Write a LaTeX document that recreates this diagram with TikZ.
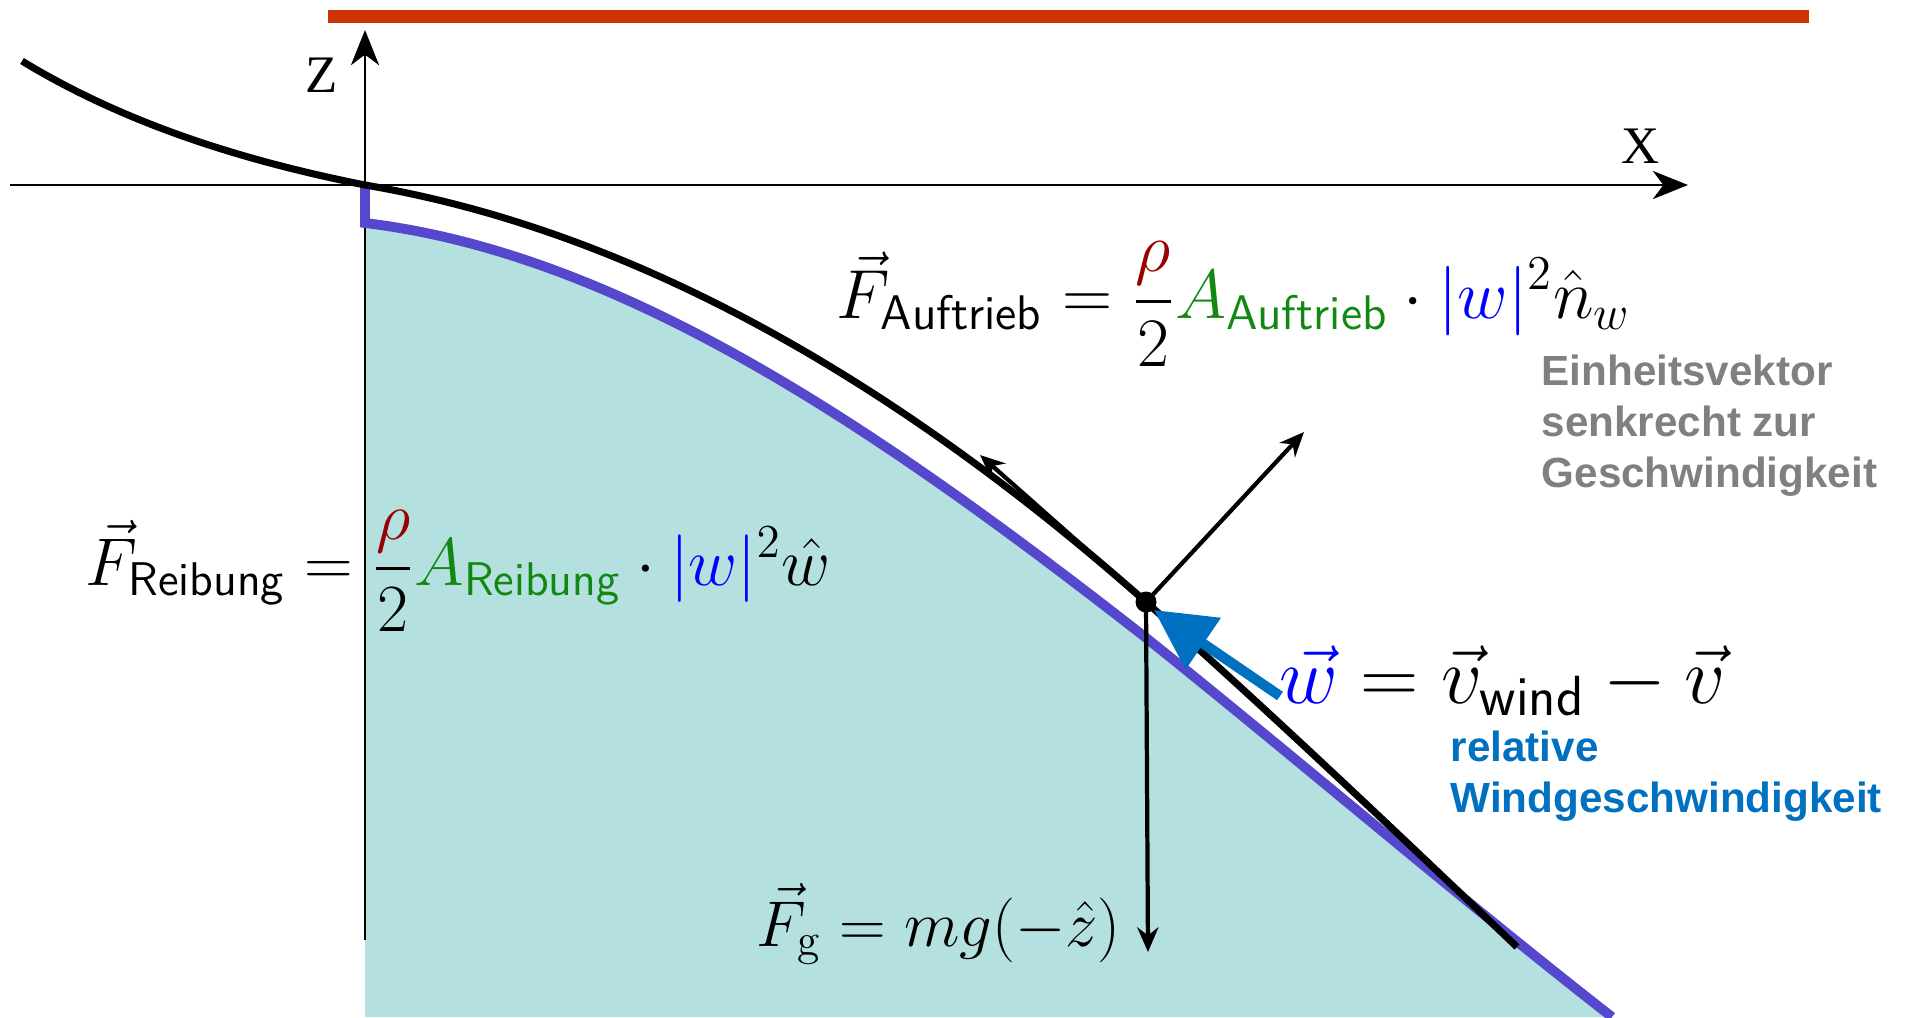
\RequirePackage{fix-cm}
\documentclass[tikz,border=0pt]{standalone}
\usepackage{amsmath}
\usepackage{fontspec}
\newfontfamily\notefont{Liberation Sans}
\newfontfamily\axisfont{Liberation Serif}
\usetikzlibrary{arrows.meta}
\definecolor{barred}{HTML}{CC3300}
\definecolor{waterfill}{HTML}{B4E0E0}
\definecolor{surfblue}{HTML}{5548CC}
\definecolor{windblue}{HTML}{0070C0}
\definecolor{notegray}{HTML}{808080}
\definecolor{rhored}{HTML}{990000}
\definecolor{areagreen}{HTML}{118811}
\definecolor{wblue}{HTML}{0000FF}

\begin{document}
\begin{tikzpicture}[
    x=0.01cm, y=-0.01cm,
    every node/.style={inner sep=0pt},
    axis/.style={line width=0.7pt, -{Stealth[length=10pt, width=8pt, inset=3pt]}},
    force/.style={line width=1.2pt, -{Stealth[length=7pt, width=6pt]}},
    windarrow/.style={windblue, line width=2.9pt, -{Triangle[length=17pt, width=17pt]}},
    formula/.style={font=\fontsize{19.75}{24}\selectfont},
    note/.style={font=\notefont\bfseries\fontsize{12}{14.5}\selectfont, align=left},
    dot/.style={circle, fill=black, minimum size=0.21cm}
]
\useasboundingbox (0,0) rectangle (1906,1017);

% Title bar
\fill[barred] (328,10) rectangle (1809,23);

% Water below the surface
\fill[waterfill] (365,1017) -- (365,223) .. controls (625,254) and (885,434) .. (1145,637)
    .. controls (1300,761) and (1457,896) .. (1612,1017) -- cycle;

% Axes
\draw[axis] (365,940) -- (365,30);
\draw[axis] (10,185) -- (1688,185);
\node[font=\axisfont\fontsize{15}{18}\selectfont] (zlabel) at (322,75) {Z};
\node[font=\axisfont\fontsize{15}{18}\selectfont] (xlabel) at (1641,146) {X};

% Surface line
\draw[surfblue, line width=2.8pt] (365,184) -- (365,223) .. controls (625,254) and (885,434) .. (1145,637)
    .. controls (1300,761) and (1457,896) .. (1612,1017);

% Trajectory
\node[dot] (P) at (1146,602) {};
\draw[line width=2pt] (22,61) .. controls (132,128) and (255,163) .. (365,185)
    .. controls (625,229) and (886,372) .. (P.center)
    .. controls (1270,712) and (1393,829) .. (1517,947);

% Forces at the point
\coordinate (tang) at (980,455);
\coordinate (norm) at (1304,432);
\coordinate (down) at (1148,952);
\coordinate (wtail) at (1280,696);
\draw[force] (P.center) -- (tang);
\draw[force] (P.center) -- (norm);
\draw[force] (P.center) -- (down);
\draw[windarrow] (wtail) -- (P.south east);

% Labels
\node[formula, anchor=west] (auftrieb) at (836,304) {$\displaystyle \vec{F}_{\mathsf{Auftrieb}} = \frac{\textcolor{rhored}{\rho}}{2}\textcolor{areagreen}{A_{\mathsf{Auftrieb}}} \cdot \textcolor{wblue}{\lvert w\rvert}^2 \hat{n}_w$};
\node[formula, font=\fontsize{19.2}{23}\selectfont, anchor=west] (reibung) at (85,571) {$\displaystyle \vec{F}_{\mathsf{Reibung}} = \frac{\textcolor{rhored}{\rho}}{2}\textcolor{areagreen}{A_{\mathsf{Reibung}}} \cdot \textcolor{wblue}{\lvert w\rvert}^2 \hat{w}$};
\node[formula, font=\fontsize{23}{27}\selectfont, anchor=base west] (wrel) at (1279,703) {$\textcolor{wblue}{\vec{w}} = \vec{v}_{\mathsf{wind}} - \vec{v}$};
\node[formula, font=\fontsize{18.4}{22}\selectfont, anchor=base west] (grav) at (756,946) {$\vec{F}_{\mathrm{g}} = mg(-\hat{z})$};
\node[note, text=notegray, anchor=north west] (einheit) at (1541,354) {Einheitsvektor\\senkrecht zur\\Geschwindigkeit};
\node[note, text=windblue, anchor=north west] (relwind) at (1450,730) {relative\\Windgeschwindigkeit};

\end{tikzpicture}
\end{document}
